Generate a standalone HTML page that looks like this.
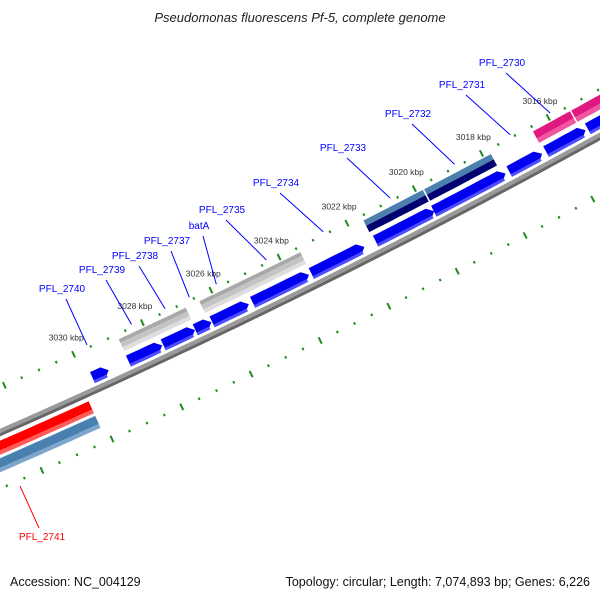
<!DOCTYPE html>
<html><head><meta charset="utf-8"><style>
html,body{margin:0;padding:0;background:#fff;}
svg{display:block;font-family:"Liberation Sans",sans-serif;}
</style></head><body>
<svg id="map" width="600" height="600" viewBox="0 0 600 600">
<text x="300" y="22" text-anchor="middle" font-size="13" font-style="italic" fill="#222">Pseudomonas fluorescens Pf-5, complete genome</text>
<text x="10" y="586" font-size="12.5" fill="#111">Accession: NC_004129</text>
<text x="590" y="586" text-anchor="end" font-size="12.5" fill="#111">Topology: circular; Length: 7,074,893 bp; Genes: 6,226</text>
<g id="plot"></g>
</svg>
<script>
// ---- data ----
const tickStartKbp = 3008;
const tickEndKbp = 3040;
const tickLabelKbp = [3016, 3018, 3020, 3022, 3024, 3026, 3028, 3030];
const blueStart = [3029.33, 3027.78, 3026.83, 3026.35, 3025.26, 3023.50, 3021.87, 3019.81, 3017.69, 3016.60, 3015.30, 3013.20];
const blueEnd   = [3029.82, 3028.78, 3027.77, 3026.84, 3026.35, 3025.17, 3023.45, 3021.56, 3019.84, 3017.60, 3016.50, 3015.25];
const grayStart = [3027.80, 3026.80, 3025.20, 3023.44];
const grayEnd   = [3028.75, 3027.80, 3026.40, 3025.20];
const duoStart = [3019.80, 3017.77];
const duoEnd   = [3021.60, 3019.80];
const pinkStart = [3015.40, 3012.50];
const pinkEnd   = [3016.55, 3015.40];
const revStart = [3030.15];
const revEnd   = [3040.00];
const geneNames = ["PFL_2740","PFL_2739","PFL_2738","PFL_2737","batA","PFL_2735","PFL_2734","PFL_2733","PFL_2732","PFL_2731","PFL_2730"];
const labelX = [62, 102, 135, 167, 199, 222, 276, 343, 408, 462, 502];
const labelY = [292, 273, 259, 244, 229, 213, 186, 151, 117, 88, 66];

// ---- geometry ----
const CX = -2915, CY = -6228;
const A0 = 1.1446, AK = 0.005243;
function P(k, r){ const a = A0 + (k-3030)*AK; return [CX + r*Math.cos(a), CY + r*Math.sin(a)]; }
const NS = "http://www.w3.org/2000/svg";
const g = document.getElementById('plot');
function mk(tag, attrs){ const e = document.createElementNS(NS, tag); for (const k in attrs) e.setAttribute(k, attrs[k]); g.appendChild(e); return e; }
function arcPts(k1, k2, r){ const pts=[]; const n=Math.max(2,Math.ceil(Math.abs(k2-k1)*4)); for(let i=0;i<=n;i++){pts.push(P(k1+(k2-k1)*i/n, r));} return pts; }
function band(k1, k2, r1, r2, fill){
  const pts = arcPts(k1,k2,r1).concat(arcPts(k2,k1,r2));
  return mk('polygon',{points:pts.map(p=>p.map(v=>v.toFixed(1)).join(',')).join(' '), fill:fill});
}
function arrow(k1, k2, r1, r2, fill){
  const head = Math.min(0.17, (k2-k1)*0.5);
  const kb = k1 + head;
  const pts = arcPts(kb,k2,r1).concat(arcPts(k2,kb,r2)).concat([P(k1,(r1+r2)/2)]);
  return mk('polygon',{points:pts.map(p=>p.map(v=>v.toFixed(1)).join(',')).join(' '), fill:fill});
}

// backbone
let e;
e = band(3005, 3045, 7267, 7271, '#9a9a9a');  
e = band(3005, 3045, 7271, 7274, '#666');  

// ticks
for (let k = tickStartKbp; k <= tickEndKbp + 0.001; k += 0.5) {
  const big = Math.abs(k - Math.round(k/2)*2) < 0.01;
  const len = big ? 7 : 2.5;
  [7229, 7322].forEach(function(r){
    const a = P(k, r - len/2), b = P(k, r + len/2);
    const t = mk('line',{x1:a[0],y1:a[1],x2:b[0],y2:b[1],stroke:'#1f8a1f','stroke-width':2});
    
    
  });
}
tickLabelKbp.forEach(function(k){
  const p = P(k, 7216);
  const t = mk('text',{x:(p[0]-2).toFixed(1), y:(p[1]-2).toFixed(1), 'text-anchor':'middle','font-size':8.5,fill:'#333'});
  t.textContent = k + ' kbp';
  
  
});

// gray genes
for (let i=0;i<grayStart.length;i++){
  e = band(grayStart[i], grayEnd[i], 7234, 7238, '#a8a8a8');  
  e = band(grayStart[i], grayEnd[i], 7238, 7243, '#c4c4c4');  
  e = band(grayStart[i], grayEnd[i], 7243, 7247, '#dedede');  
}
// steelblue / navy genes
for (let i=0;i<duoStart.length;i++){
  e = band(duoStart[i]+0.02, duoEnd[i]-0.02, 7234, 7240, '#4b7fae');  
  e = band(duoStart[i]+0.02, duoEnd[i]-0.02, 7240, 7247, '#000070');  
}
// pink genes
for (let i=0;i<pinkStart.length;i++){
  e = band(pinkStart[i]+0.02, pinkEnd[i]-0.02, 7234, 7242, '#e0187f');  
  e = band(pinkStart[i]+0.02, pinkEnd[i]-0.02, 7242, 7247, '#f0559f');  
}
// blue genes
for (let i=0;i<blueStart.length;i++){
  e = arrow(blueStart[i], blueEnd[i]-0.02, 7252, 7264, '#0000f0');  
  e = band(blueStart[i]+0.1, blueEnd[i]-0.02, 7261, 7264, '#4d4dff');  
}
// reverse strand genes
for (let i=0;i<revStart.length;i++){
  e = band(revStart[i], revEnd[i], 7278, 7287, '#ff0000');  
  e = band(revStart[i], revEnd[i], 7287, 7291, '#ff5a5a');  
  e = band(revStart[i], revEnd[i], 7294, 7303, '#4a80b0');  
  e = band(revStart[i], revEnd[i], 7303, 7307, '#7ea6cc');  
}

// gene labels
const labelGene = [0,1,2,3,4,5,6,7,8,9,10];
labelGene.forEach(function(gi, i){
  const mid = (blueStart[gi]+blueEnd[gi])/2;
  const p = P(mid, 7226);
  const ln = mk('line',{x1:labelX[i]+4,y1:labelY[i]+7,x2:p[0].toFixed(1),y2:p[1].toFixed(1),stroke:'#0000ff','stroke-width':1});
  
  
  const t = mk('text',{x:labelX[i],y:labelY[i],'text-anchor':'middle','font-size':10,fill:'#0000ff'});
  t.textContent = geneNames[i];
  
  
});
// PFL_2741 label
{
  const ln = mk('line',{x1:20,y1:486,x2:39,y2:528,stroke:'#ff0000','stroke-width':1});
  
  
  const t = mk('text',{x:42,y:540,'text-anchor':'middle','font-size':10,fill:'#ff0000'});
  t.textContent = 'PFL_2741';
  
  
}
</script>
</body></html>
